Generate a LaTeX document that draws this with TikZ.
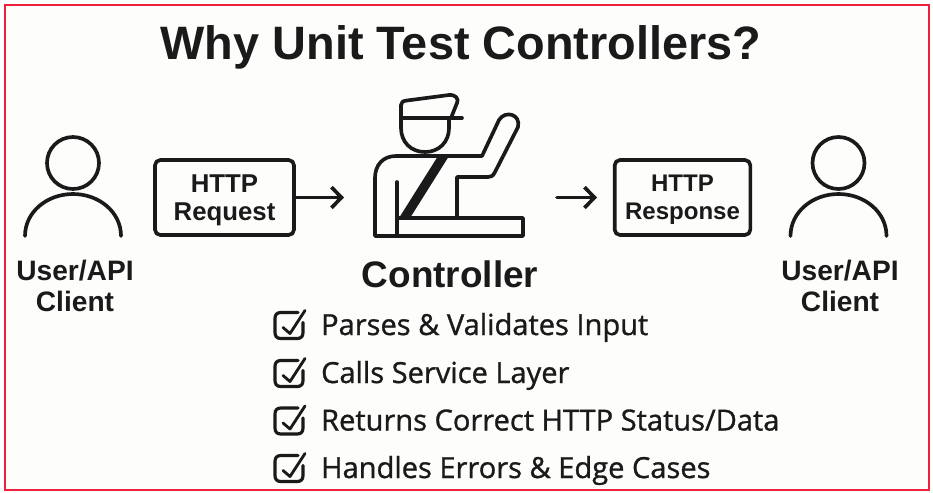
\documentclass[tikz,border=0pt]{standalone}
\usepackage{fontspec}
\setmainfont{Liberation Sans}
\newfontfamily\listfont[FakeBold=1]{Open Sans}
\usetikzlibrary{arrows.meta}
\definecolor{inkblack}{HTML}{1A1A1A}
\definecolor{frame}{HTML}{F0203C}
\definecolor{paper}{HTML}{FDFDFB}
\tikzset{
    outline/.style={draw=inkblack, line width=0.11cm, line cap=round, line join=round},
    httpbox/.style={outline, rounded corners=0.16cm, minimum width=4.17cm, minimum height=2.25cm, align=center, text depth=0pt, font=\bfseries\fontsize{22}{24}\selectfont, text=inkblack},
    flow/.style={outline, -{Straight Barb[length=0.3cm,width=0.62cm,line width=0.11cm]}},
    clientlabel/.style={align=center, font=\bfseries\fontsize{24}{27}\selectfont, text=inkblack},
    checktext/.style={anchor=base west, font=\listfont\fontsize{24.8}{27}\selectfont, text=inkblack}
}
\newcommand{\person}[1]{
    \draw[outline] (#1,163) circle (26);
    \draw[outline] (#1-48,236) .. controls (#1-48,212) and (#1-26,194) .. (#1,194) .. controls (#1+26,194) and (#1+48,212) .. (#1+48,236);
}
\newcommand{\checkbox}[1]{
    \draw[outline, line width=0.095cm] (298,#1-13) -- (281,#1-13) .. controls (277,#1-13) and (275,#1-11) .. (275,#1-7) -- (275,#1+7) .. controls (275,#1+11) and (277,#1+13) .. (281,#1+13) -- (297,#1+13) .. controls (301,#1+13) and (303,#1+11) .. (303,#1+7) -- (303,#1-3);
    \draw[outline, line width=0.085cm] (283,#1+2) -- (290,#1+8) -- (305,#1-15);
}
\begin{document}
\begin{tikzpicture}[x=0.03cm,y=-0.03cm]
    % Fix the page and draw the frame
    \useasboundingbox (0,0) rectangle (933,492);
    \fill[white] (0,0) rectangle (933,492);
    \draw[frame, fill=paper, line width=0.06cm] (5,5) rectangle (929,490);

    % Title
    \node (title) at (461,47.5) {\bfseries\fontsize{40}{44}\selectfont\color{inkblack}Why Unit Test Controllers?};

    % Left client
    \person{73}
    \node[clientlabel] (clientin) at (75,286) {User/API\\Client};

    % Request box and its arrow
    \node[httpbox] (request) at (224.5,197.5) {HTTP\\Request};
    \coordinate (officerin) at (344,197.5);
    \draw[flow] (request) -- (officerin);

    % Controller figure
    \draw[outline] (401,118) -- (401,105) .. controls (401,102) and (403,101) .. (407,100.5) -- (449,95) .. controls (456,94.5) and (459,99) .. (457,103) -- (451,118);
    \draw[outline] (401,118) -- (462,118);
    \draw[outline] (401,118) -- (401,128) .. controls (401,142) and (411,152) .. (425,152) .. controls (439,152) and (449,142) .. (449,128) -- (449,118);
    \draw[outline] (397,236) -- (375,236) -- (375,178) .. controls (375,165) and (383,156) .. (396,156) -- (482,156) -- (499,120) .. controls (505,110) and (521,114) .. (518,127) -- (495,172) .. controls (493,176) and (491,177) .. (488,177) -- (457,177) -- (457,218);
    \draw[outline] (397,182) -- (397,236);
    \draw[outline] (397,218) rectangle (523,236);
    \fill[inkblack] (438,156) -- (449,156) -- (410,218) -- (399,218) -- cycle;
    \node (controller) at (450,274) {\bfseries\fontsize{31.5}{35}\selectfont\color{inkblack}Controller};

    % Response box and its arrow
    \coordinate (officerout) at (557,197.5);
    \coordinate (responsein) at (597,197.5);
    \draw[flow] (officerout) -- (responsein);
    \node[httpbox, minimum width=4.07cm, font=\bfseries\fontsize{20.5}{24}\selectfont] (response) at (682.5,197.5) {HTTP\\Response};

    % Right client
    \person{838.5}
    \node[clientlabel] (clientout) at (840,286) {User/API\\Client};

    % Checklist
    \foreach \rowy/\basey/\rowname/\rowtext in {325.5/335/parses/{Parses \& Validates Input}, 373.5/383/calls/{Calls Service Layer}, 421/430.5/returns/{Returns Correct HTTP Status/Data}, 468.5/478/handles/{Handles Errors \& Edge Cases}} {
        \checkbox{\rowy}
        \node[checktext] (\rowname) at (317,\basey) {\rowtext};
    }
\end{tikzpicture}
\end{document}
